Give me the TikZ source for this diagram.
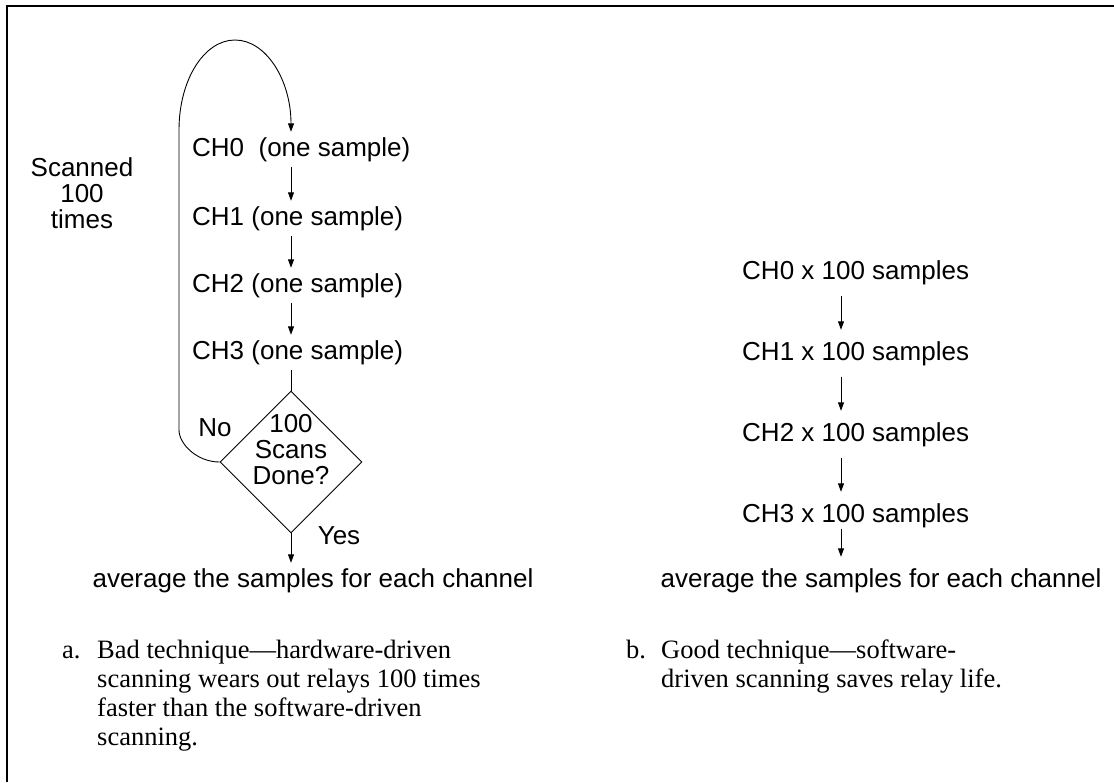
\documentclass[tikz,border=0pt]{standalone}
\usepackage{fontspec}
\setmainfont{Liberation Serif}
\setsansfont{Liberation Sans}
\usetikzlibrary{arrows.meta}
\usetikzlibrary{positioning}
\usetikzlibrary{shapes.geometric}
\tikzset{flow/.style = {-{Triangle[length=8.5pt, width=6pt]}, line width=0.9pt}}
\tikzset{chbox/.style = {font=\sffamily\fontsize{26}{26}\selectfont, inner xsep=0, inner ysep=5pt, text height=19pt, text depth=5.5pt}}
\tikzset{rbox/.style = {chbox, inner ysep=11pt}}
\tikzset{txt/.style = {font=\sffamily\fontsize{26}{26}\selectfont, inner sep=0, align=center}}
\tikzset{capt/.style = {font=\rmfamily\fontsize{26.5}{29}\selectfont, inner sep=0, align=left}}
\tikzset{decbox/.style = {draw, diamond, line width=0.9pt, minimum width=142pt, minimum height=142pt, inner sep=0}}

\begin{document}
\begin{tikzpicture}[x=1pt, y=-1pt]
      \useasboundingbox (0,0) rectangle (1114,782);
      \draw [line width=2.2pt] (7,782) -- (7,6) -- (1114,6);

      % hardware-driven loop
      \node [txt, anchor=north] (scan) at (82,157) {Scanned\\100\\times};
      \node [chbox, anchor=base west] (lch0) at (192,156) {CH0\ \ (one sample)};
      \node [chbox, anchor=base west] (lch1) at (192,225) {CH1 (one sample)};
      \node [chbox, anchor=base west] (lch2) at (192,292) {CH2 (one sample)};
      \node [chbox, anchor=base west] (lch3) at (192,359) {CH3 (one sample)};
      \node [decbox] (dec) at (291,462) {};
      \node [txt, anchor=north] (dectxt) at (291,414) {100\\Scans\\Done?};
      \node [txt] (no) at (215,428) {No};
      \node [txt] (yes) at (339,536) {Yes};
      \node [chbox, anchor=base] (lavg) at (313,587) {average the samples for each channel};

      \draw [flow] (lch0.south -| dec.center) -- (lch1.north -| dec.center);
      \draw [flow] (lch1.south -| dec.center) -- (lch2.north -| dec.center);
      \draw [flow] (lch2.south -| dec.center) -- (lch3.north -| dec.center);
      \draw [line width=0.9pt] (lch3.south -| dec.center) -- (dec.north);
      \draw [flow] (dec.south) -- (lavg.north -| dec.center);
      \draw [flow] (dec.west) .. controls (197,462) and (179,444) .. (179,430)
        -- (179,130) .. controls (179,80) and (204,40) .. (235,40)
        .. controls (266,40) and (291,80) .. (lch0.north -| dec.center);

      % software-driven
      \coordinate (rcol) at (841,0);
      \foreach \n/\y in {0/279, 1/360, 2/441, 3/522} {
        \node [rbox, anchor=base west] (rch\n) at (742,\y) {CH\n\ x 100 samples};
      }
      \node [rbox, anchor=base] (ravg) at (881,587) {average the samples for each channel};
      \foreach \a/\b/\s in {rch0/rch1/0, rch1/rch2/0, rch2/rch3/0, rch3/ravg/-10} {
        \draw [flow, shorten <=\s pt] (\a.south -| rcol) -- (\b.north -| rcol);
      }

      % captions
      \node [capt, anchor=base west] (capa) at (62,658) {a.};
      \node [capt, anchor=north west] (capatxt) at (97,640) {Bad technique—hardware-driven\\scanning wears out relays 100 times\\faster than the software-driven\\scanning.};
      \node [capt, anchor=base west] (capb) at (626,658) {b.};
      \node [capt, anchor=north west] (capbtxt) at (661,640) {Good technique—software-\\driven scanning saves relay life.};
\end{tikzpicture}
\end{document}
